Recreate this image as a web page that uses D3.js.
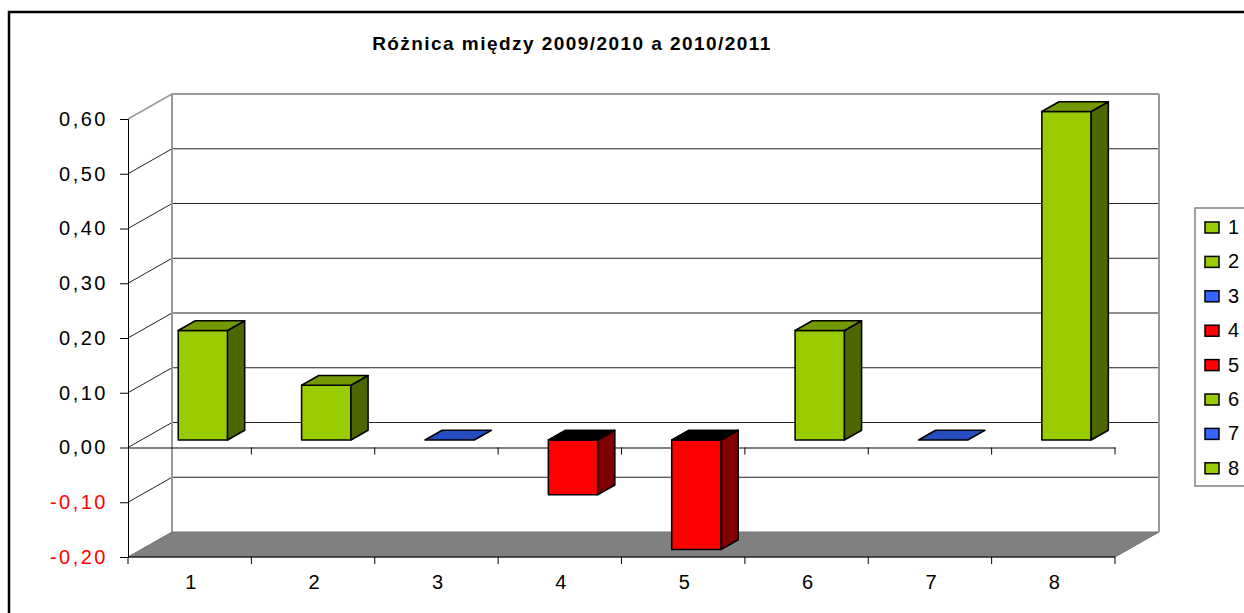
<!DOCTYPE html>
<html>
<head>
<meta charset="utf-8">
<script src="https://cdn.jsdelivr.net/npm/d3@7"></script>
<style>
    body { margin: 0; background: #fff; }
    text { font-family: Arial, "Liberation Sans", sans-serif; }
</style>
</head>
<body>
<svg id="chart" width="1244" height="613"></svg>
<script>
// chart data
const title = "Różnica między 2009/2010 a 2010/2011";
const categories = ["1", "2", "3", "4", "5", "6", "7", "8"];
const values = [0.2, 0.1, 0, -0.1, -0.2, 0.2, 0, 0.6];
const yTicks = [-0.2, -0.1, 0, 0.1, 0.2, 0.3, 0.4, 0.5, 0.6];
const seriesColors = ["#99CC00", "#99CC00", "#3366FF", "#FF0000", "#FF0000", "#99CC00", "#3366FF", "#99CC00"];

const svg = d3.select("#chart");

// depth of the 3d box (shift of back wall against front plane)
const depth = { dx: 44, dy: -25 };
const barFront = 0.3, barBack = 0.69;

const x = d3.scaleBand().domain(categories).range([128, 1115]).paddingInner(0).paddingOuter(0);
const y = d3.scaleLinear().domain([-0.2, 0.6]).range([557, 119]);

function pt(px, v, d) {
    return [px + d * depth.dx, y(v) + d * depth.dy];
}
function poly(points) {
    return points.map(p => p.join(",")).join(" ");
}

// outer border
svg.append("rect")
    .attr("x", 9).attr("y", 12)
    .attr("width", 1260).attr("height", 640)
    .attr("fill", "none")
    .attr("stroke", "#000")
    .attr("stroke-width", 2.5);

// title
svg.append("text")
    .attr("x", 572).attr("y", 50)
    .attr("text-anchor", "middle")
    .attr("font-size", 19)
    .attr("font-weight", "bold")
    .attr("letter-spacing", 1.45)
    .text(title);

const x0 = x.range()[0], x1 = x.range()[1];

// floor
svg.append("polygon")
    .attr("points", poly([pt(x0, -0.2, 0), pt(x0, -0.2, 1), pt(x1, -0.2, 1), pt(x1, -0.2, 0)]))
    .attr("fill", "#808080")
    .attr("stroke", "#707070")
    .attr("stroke-width", 1);

// gridlines on back wall + side wall
const grid = svg.append("g");
yTicks.filter(t => t > -0.2).forEach(t => {
    grid.append("line")
        .attr("x1", pt(x0, t, 1)[0]).attr("y1", pt(x0, t, 1)[1])
        .attr("x2", pt(x1, t, 1)[0]).attr("y2", pt(x1, t, 1)[1])
        .attr("stroke", t === 0.6 ? "#999" : "#222")
        .attr("stroke-width", t === 0.6 ? 2 : 1);
    grid.append("line")
        .attr("x1", pt(x0, t, 0)[0]).attr("y1", pt(x0, t, 0)[1])
        .attr("x2", pt(x0, t, 1)[0]).attr("y2", pt(x0, t, 1)[1])
        .attr("stroke", t === 0.6 ? "#999" : "#222")
        .attr("stroke-width", t === 0.6 ? 1.5 : 1);
});

// back wall edges
svg.append("line")
    .attr("x1", pt(x0, 0.6, 1)[0]).attr("y1", pt(x0, 0.6, 1)[1])
    .attr("x2", pt(x0, -0.2, 1)[0]).attr("y2", pt(x0, -0.2, 1)[1])
    .attr("stroke", "#999").attr("stroke-width", 2);
svg.append("line")
    .attr("x1", pt(x1, 0.6, 1)[0]).attr("y1", pt(x1, 0.6, 1)[1])
    .attr("x2", pt(x1, -0.2, 1)[0]).attr("y2", pt(x1, -0.2, 1)[1])
    .attr("stroke", "#999").attr("stroke-width", 2);

// value axis
const yAxis = d3.axisLeft(y)
    .tickValues(yTicks)
    .tickSize(8)
    .tickPadding(12)
    .tickFormat(d => d3.format(".2f")(d).replace(".", ",").replace("−", "-"));
const ya = svg.append("g")
    .attr("transform", `translate(${x0},0)`)
    .call(yAxis);
ya.select(".domain").attr("stroke", "#000");
ya.selectAll("text")
    .attr("font-size", 20)
    .attr("letter-spacing", 2.5)
    .attr("font-family", "Arial, 'Liberation Sans', sans-serif")
    .attr("fill", d => d < 0 ? "#FF0000" : "#000");

// category axis at zero and at the bottom
const xAxisZero = d3.axisBottom(x).tickSize(0).tickFormat("");
const zeroAxis = svg.append("g")
    .attr("transform", `translate(0,${y(0)})`)
    .call(xAxisZero);
zeroAxis.select(".domain").attr("stroke", "#000");
zeroAxis.selectAll(".tick").remove();
categories.forEach((c, i) => {
    const bx = x(c) + x.bandwidth();
    zeroAxis.append("line").attr("x1", bx).attr("x2", bx).attr("y1", 0).attr("y2", 7).attr("stroke", "#000");
});

const bottom = svg.append("g").attr("transform", `translate(0,${y(-0.2)})`);
bottom.append("line").attr("x1", x0).attr("x2", x1).attr("y1", 0).attr("y2", 0).attr("stroke", "#000");
[x0].concat(categories.map(c => x(c) + x.bandwidth())).forEach(bx => {
    bottom.append("line").attr("x1", bx).attr("x2", bx).attr("y1", 0).attr("y2", 7).attr("stroke", "#000");
});
bottom.selectAll("text.cat")
    .data(categories)
    .join("text")
    .attr("class", "cat")
    .attr("x", d => x(d) + x.bandwidth() / 2 + 1)
    .attr("y", 32)
    .attr("text-anchor", "middle")
    .attr("font-size", 20)
    .text(d => d);

// bars
const barW = x.bandwidth() * 0.4;
const bars = svg.append("g");
values.forEach((v, i) => {
    const c = categories[i];
    const base = d3.color(seriesColors[i]);
    const bx0 = x(c) + (x.bandwidth() - barW) / 2;
    const bx1 = bx0 + barW;
    const top = Math.max(v, 0), bot = Math.min(v, 0);
    const topColor = v < 0 ? "#000" : d3.rgb(base.r * 0.75, base.g * 0.75, base.b * 0.75).formatHex();
    const sideColor = d3.rgb(base.r * 0.5, base.g * 0.5, base.b * 0.5).formatHex();
    if (v !== 0) {
        bars.append("polygon")
            .attr("points", poly([pt(bx0, top, barFront), pt(bx1, top, barFront), pt(bx1, bot, barFront), pt(bx0, bot, barFront)]))
            .attr("fill", base.formatHex())
            .attr("stroke", "#000").attr("stroke-width", 1.5).attr("stroke-linejoin", "round");
        bars.append("polygon")
            .attr("points", poly([pt(bx1, top, barFront), pt(bx1, top, barBack), pt(bx1, bot, barBack), pt(bx1, bot, barFront)]))
            .attr("fill", sideColor)
            .attr("stroke", "#000").attr("stroke-width", 1.5).attr("stroke-linejoin", "round");
    }
    bars.append("polygon")
        .attr("points", poly([pt(bx0, top, barFront), pt(bx0, top, barBack), pt(bx1, top, barBack), pt(bx1, top, barFront)]))
        .attr("fill", topColor)
        .attr("stroke", "#000").attr("stroke-width", 1.5).attr("stroke-linejoin", "round");
});

// legend
const legend = svg.append("g").attr("transform", "translate(1195,208)");
legend.append("rect")
    .attr("width", 80).attr("height", 278)
    .attr("fill", "#fff")
    .attr("stroke", "#808080").attr("stroke-width", 1.5);
const items = legend.selectAll("g.item")
    .data(categories)
    .join("g")
    .attr("class", "item")
    .attr("transform", (d, i) => `translate(10,${14 + i * 34.4})`);
items.append("rect")
    .attr("width", 14).attr("height", 11)
    .attr("fill", (d, i) => seriesColors[i])
    .attr("stroke", "#000").attr("stroke-width", 1.5);
items.append("text")
    .attr("x", 23).attr("y", 12)
    .attr("font-size", 20)
    .text(d => d);
</script>
</body>
</html>
